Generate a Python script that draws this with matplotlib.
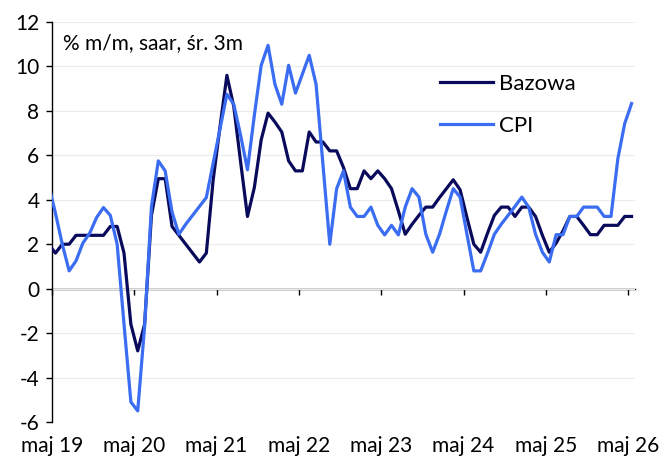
import numpy as np
import matplotlib as mpl
mpl.use('Agg')
import matplotlib.pyplot as plt

plt.rcParams['font.family'] = ['Lato', 'DejaVu Sans']

# miesiace: -1 = kwi 19 (obciete przez os), 0 = maj 19 ... 84 = maj 26
months = np.arange(-1, 85)

bazowa = [2.0, 1.6, 2.0, 2.0, 2.4, 2.4, 2.4, 2.4, 2.4, 2.8, 2.8, 1.6, -1.6, -2.8,
          -1.6, 3.3, 4.95, 4.95, 2.8, 2.4, 2.0, 1.6, 1.2, 1.6, 4.9, 7.3, 9.6, 8.2,
          5.7, 3.25, 4.55, 6.7, 7.9, 7.5, 7.05, 5.75, 5.3, 5.3, 7.05, 6.6, 6.6,
          6.2, 6.2, 5.45, 4.5, 4.5, 5.3, 4.95, 5.3, 4.95, 4.5, 3.5, 2.45, 2.9,
          3.3, 3.67, 3.67, 4.1, 4.5, 4.9, 4.45, 3.2, 2.0, 1.64, 2.5, 3.3, 3.67,
          3.67, 3.25, 3.67, 3.67, 3.25, 2.4, 1.64, 2.05, 2.6, 3.25, 3.25, 2.85,
          2.43, 2.43, 2.85, 2.85, 2.85, 3.25, 3.25]

cpi = [4.7, 3.4, 2.0, 0.8, 1.25, 2.05, 2.5, 3.2, 3.65, 3.3, 2.0, -1.6, -5.1, -5.5,
       -1.7, 3.7, 5.75, 5.3, 3.45, 2.45, 2.9, 3.3, 3.7, 4.1, 5.65, 7.2, 8.75, 8.3,
       6.9, 5.35, 7.8, 10.05, 10.95, 9.2, 8.3, 10.05, 8.8, 9.65, 10.5, 9.2, 5.6,
       2.0, 4.5, 5.3, 3.67, 3.25, 3.25, 3.67, 2.85, 2.42, 2.85, 2.42, 3.67, 4.5,
       4.12, 2.45, 1.64, 2.45, 3.5, 4.5, 4.12, 2.45, 0.8, 0.8, 1.6, 2.45, 2.9,
       3.3, 3.7, 4.12, 3.67, 2.45, 1.64, 1.2, 2.43, 2.43, 3.25, 3.25, 3.67, 3.67,
       3.67, 3.25, 3.25, 5.85, 7.43, 8.33]

tick_labels = ['maj 19', 'maj 20', 'maj 21', 'maj 22', 'maj 23', 'maj 24',
               'maj 25', 'maj 26']
tick_pos = [-0.5 + 12 * i for i in range(len(tick_labels))]

fig = plt.figure(figsize=(6.65, 4.59), dpi=100)
ax = fig.add_axes([52/665, 1 - 422/459, (635 - 52)/665, 400/459])

ax.plot(months, bazowa, color='#0a0a5c', lw=2.3, label='Bazowa', zorder=3)
ax.plot(months, cpi, color='#3a6df2', lw=2.3, label='CPI', zorder=4)

ax.set_xlim(-0.5, 84.5)
ax.set_ylim(-6, 12)
ax.set_yticks(range(-6, 13, 2))
ax.set_yticklabels([str(v) for v in range(-6, 13, 2)])
ax.grid(axis='y', color='#ececec', lw=0.8)
ax.set_axisbelow(True)

for s in ['top', 'right', 'bottom']:
    ax.spines[s].set_visible(False)
ax.spines['left'].set_linewidth(1.0)
ax.tick_params(axis='y', direction='out', length=4, width=1.0, labelsize=15,
               pad=5, colors='black')

# etykiety na dole, os zerowa z kreskami osobno
ax.set_xticks(tick_pos)
ax.set_xticklabels(tick_labels)
ax.tick_params(axis='x', length=0, labelsize=15, pad=10)

sec = ax.secondary_xaxis(1/3)
sec.set_xticks(tick_pos)
sec.set_xticklabels([])
sec.tick_params(direction='out', length=4, width=1.0)
sec.spines['bottom'].set_linewidth(1.0)

fig.text(63/665, 1 - 43/459, '% m/m, saar, śr. 3m', fontsize=15, va='center',
         ha='left')

ax.legend(loc='upper left', bbox_to_anchor=(440/665, 1 - 74/459),
          bbox_transform=fig.transFigure, frameon=False, fontsize=16,
          handlelength=2.4, handletextpad=0.25, labelspacing=1.0,
          borderpad=0, borderaxespad=0)

fig.savefig('out.png', dpi=100)
